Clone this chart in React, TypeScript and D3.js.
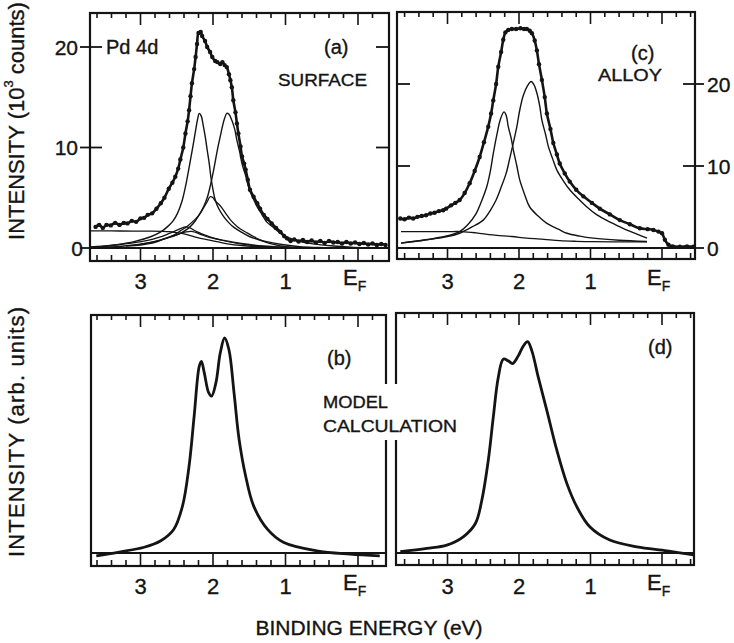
import React from 'react';
import * as d3 from 'd3';

type Pt = [number, number];

// binding energy (eV) vs intensity (10^3 counts)
const surfaceExp: Pt[] = [
  [3.62, 2.1], [3.57, 2.3], [3.52, 2.0], [3.47, 2.3], [3.41, 2.25], [3.35, 2.5], [3.29, 2.3], [3.23, 2.5],
  [3.18, 2.45], [3.12, 2.7], [3.06, 2.6], [3.0, 2.95], [2.95, 3.0], [2.9, 3.3], [2.84, 3.45], [2.78, 3.9],
  [2.72, 4.45], [2.67, 5.0], [2.61, 5.9], [2.56, 6.5], [2.52, 7.1], [2.48, 7.9], [2.45, 8.8], [2.41, 10.0],
  [2.38, 11.4], [2.35, 12.6], [2.33, 13.7], [2.31, 15.1], [2.29, 16.4], [2.26, 17.8], [2.24, 19.0], [2.22, 20.3],
  [2.2, 21.4], [2.17, 21.5], [2.15, 21.1], [2.11, 20.6], [2.08, 20.0], [2.04, 19.5], [2.01, 19.0], [1.97, 18.6],
  [1.94, 18.5], [1.9, 18.3], [1.87, 18.5], [1.84, 18.2], [1.81, 18.0], [1.78, 17.3], [1.76, 16.7], [1.74, 16.0],
  [1.72, 14.7], [1.69, 13.5], [1.67, 12.4], [1.65, 11.4], [1.62, 10.1], [1.6, 9.1], [1.57, 8.4], [1.55, 7.8],
  [1.52, 6.8], [1.49, 5.8], [1.44, 5.1], [1.39, 4.45], [1.35, 3.9], [1.3, 3.3], [1.25, 2.9], [1.19, 2.45],
  [1.13, 2.0], [1.07, 1.6], [1.02, 1.2], [0.98, 0.96], [0.93, 0.7], [0.88, 0.85], [0.82, 0.65], [0.76, 0.8],
  [0.7, 0.6], [0.64, 0.75], [0.58, 0.55], [0.52, 0.7], [0.46, 0.5], [0.4, 0.7], [0.34, 0.55], [0.28, 0.6],
  [0.22, 0.45], [0.16, 0.6], [0.1, 0.45], [0.04, 0.55], [-0.02, 0.4], [-0.08, 0.5], [-0.14, 0.35], [-0.2, 0.45],
  [-0.26, 0.3], [-0.32, 0.4], [-0.38, 0.3],
];

const surfacePeakA: Pt[] = [
  [3.69, 0.05], [3.55, 0.13], [3.3, 0.35], [3.09, 0.63], [2.86, 1.12], [2.72, 1.6], [2.63, 2.1], [2.55, 2.7],
  [2.49, 3.45], [2.43, 4.6], [2.38, 6.1], [2.34, 7.6], [2.31, 8.8], [2.27, 10.4], [2.24, 11.7], [2.21, 12.9],
  [2.19, 13.4], [2.16, 13.1], [2.14, 12.4], [2.11, 11.2], [2.08, 9.75], [2.05, 8.3], [2.03, 7.1], [2.0, 5.8],
  [1.97, 4.8], [1.92, 3.9], [1.85, 3.1], [1.78, 2.5], [1.72, 2.1], [1.6, 1.55], [1.49, 1.12], [1.38, 0.85],
  [1.26, 0.63], [1.05, 0.35], [0.8, 0.13], [0.55, 0.05], [0.34, 0.0],
];

const surfacePeakB: Pt[] = [
  [3.69, 0.0], [3.55, 0.05], [3.3, 0.15], [3.09, 0.3], [2.9, 0.5], [2.72, 0.8], [2.58, 1.1], [2.45, 1.46],
  [2.35, 1.9], [2.27, 2.46], [2.2, 3.2], [2.13, 4.1], [2.08, 5.0], [2.04, 6.1], [1.99, 7.8], [1.94, 9.75],
  [1.9, 11.1], [1.87, 12.1], [1.84, 12.9], [1.81, 13.4], [1.78, 13.3], [1.74, 12.7], [1.7, 11.8], [1.67, 10.7],
  [1.63, 9.5], [1.6, 8.4], [1.55, 7.2], [1.51, 6.1], [1.45, 5.0], [1.39, 4.1], [1.32, 3.3], [1.26, 2.6],
  [1.16, 2.0], [1.07, 1.46], [0.95, 1.0], [0.8, 0.63], [0.6, 0.38], [0.34, 0.2], [0.1, 0.08], [-0.12, 0.0],
];

const surfacePeakC: Pt[] = [
  [3.2, 0.2], [3.0, 0.3], [2.8, 0.55], [2.68, 0.9], [2.55, 1.25], [2.45, 1.7], [2.35, 2.2], [2.24, 2.9],
  [2.18, 3.4], [2.13, 4.0], [2.08, 4.6], [2.04, 5.1], [2.0, 5.0], [1.97, 4.7], [1.9, 4.2], [1.83, 3.5],
  [1.76, 2.8], [1.66, 2.1], [1.53, 1.5], [1.43, 1.1], [1.35, 0.8], [1.22, 0.45], [1.07, 0.2], [0.9, 0.05],
  [0.8, 0.0],
];

const surfaceBump1: Pt[] = [
  [3.69, 0.1], [3.4, 0.25], [3.1, 0.5], [2.9, 0.75], [2.75, 1.05], [2.62, 1.4], [2.52, 1.7], [2.44, 1.95],
  [2.38, 2.1], [2.33, 2.05], [2.28, 1.85], [2.2, 1.55], [2.1, 1.25], [2.0, 1.0], [1.85, 0.75], [1.7, 0.55],
  [1.5, 0.35], [1.3, 0.2], [1.1, 0.1], [0.9, 0.05], [0.7, 0.0],
];

const surfaceBump2: Pt[] = [
  [3.0, 0.4], [2.8, 0.65], [2.65, 0.95], [2.55, 1.2], [2.45, 1.45], [2.37, 1.6], [2.3, 1.65], [2.24, 1.55],
  [2.15, 1.3], [2.05, 1.05], [1.9, 0.8], [1.7, 0.5], [1.5, 0.3], [1.3, 0.15], [1.1, 0.05], [0.9, 0.0],
];

const surfaceBg: Pt[] = [
  [3.69, 1.7], [3.4, 1.7], [3.1, 1.68], [2.85, 1.68], [2.7, 1.66], [2.6, 1.62], [2.5, 1.52], [2.4, 1.4],
  [2.3, 1.2], [2.2, 1.0], [2.1, 0.85], [2.0, 0.7], [1.9, 0.55], [1.8, 0.42], [1.6, 0.25], [1.4, 0.15],
  [1.2, 0.08], [1.0, 0.04], [0.8, 0.0],
];

const alloyExp: Pt[] = [
  [3.66, 3.6], [3.6, 3.5], [3.54, 3.7], [3.48, 3.6], [3.42, 3.8], [3.36, 3.9], [3.3, 4.0], [3.24, 4.2],
  [3.18, 4.3], [3.12, 4.5], [3.06, 4.6], [3.02, 4.8], [2.95, 5.2], [2.89, 5.5], [2.83, 5.85], [2.76, 6.7],
  [2.69, 7.9], [2.62, 9.4], [2.55, 11.1], [2.49, 12.9], [2.43, 14.8], [2.39, 16.4], [2.36, 18.0], [2.32, 20.0],
  [2.29, 22.1], [2.25, 23.9], [2.22, 25.4], [2.19, 26.3], [2.15, 26.6], [2.1, 26.7], [2.04, 26.7], [1.98, 26.8],
  [1.93, 26.7], [1.89, 26.7], [1.85, 26.5], [1.82, 26.2], [1.78, 25.3], [1.75, 24.1], [1.72, 22.4], [1.68, 20.5],
  [1.64, 18.4], [1.61, 16.4], [1.56, 14.5], [1.52, 12.8], [1.47, 11.4], [1.43, 10.3], [1.36, 9.1], [1.29, 8.1],
  [1.2, 7.1], [1.1, 6.3], [0.98, 5.5], [0.87, 4.8], [0.73, 4.1], [0.59, 3.4], [0.45, 2.9], [0.31, 2.4],
  [0.2, 2.3], [0.12, 2.2], [0.05, 2.0], [0.0, 1.8], [-0.04, 1.0], [-0.09, 0.4], [-0.15, 0.2], [-0.25, 0.15],
  [-0.35, 0.2], [-0.44, 0.15],
];

const alloyPeakA: Pt[] = [
  [3.65, 0.6], [3.3, 1.0], [3.0, 1.5], [2.83, 2.0], [2.72, 2.8], [2.6, 4.2], [2.52, 5.8], [2.45, 7.5],
  [2.4, 9.4], [2.36, 11.5], [2.31, 13.8], [2.26, 15.7], [2.21, 16.6], [2.18, 16.2], [2.15, 14.8], [2.11, 13.4],
  [2.08, 12.0], [2.03, 10.0], [1.99, 8.3], [1.92, 6.5], [1.85, 5.0], [1.72, 3.8], [1.61, 3.0], [1.45, 2.3],
  [1.33, 1.8], [1.15, 1.45], [0.96, 1.2], [0.6, 0.95], [0.21, 0.8],
];

const alloyPeakB: Pt[] = [
  [3.65, 0.6], [3.3, 1.0], [3.0, 1.4], [2.83, 1.8], [2.65, 2.6], [2.5, 3.4], [2.4, 4.6], [2.32, 5.85],
  [2.25, 7.4], [2.18, 9.1], [2.13, 10.9], [2.08, 12.8], [2.03, 14.8], [1.99, 16.8], [1.94, 18.6], [1.88, 19.8],
  [1.83, 20.3], [1.79, 19.9], [1.75, 18.9], [1.71, 17.3], [1.68, 15.6], [1.63, 13.9], [1.59, 12.4], [1.53, 10.9],
  [1.47, 9.5], [1.38, 8.2], [1.29, 7.1], [1.17, 6.0], [1.05, 5.0], [0.92, 4.1], [0.78, 3.4], [0.64, 2.8],
  [0.5, 2.2], [0.35, 1.7], [0.21, 1.2],
];

const alloyBg: Pt[] = [
  [3.65, 2.0], [3.3, 2.0], [3.0, 2.0], [2.8, 2.0], [2.6, 1.85], [2.37, 1.6], [2.1, 1.4], [1.89, 1.2],
  [1.65, 1.05], [1.43, 0.9], [1.2, 0.82], [0.96, 0.77], [0.6, 0.75], [0.21, 0.75],
];

// model calculation, arbitrary units
const modelSurface: Pt[] = [
  [3.61, 0.1], [3.31, 1.7], [2.95, 4.0], [2.72, 7.0], [2.54, 12.3], [2.42, 23.0], [2.33, 41.3], [2.26, 64.2],
  [2.19, 87.0], [2.16, 89.3], [2.12, 84.0], [2.06, 74.9], [2.02, 73.3], [1.96, 79.4], [1.9, 93.1], [1.84, 100],
  [1.78, 94.6], [1.71, 74.9], [1.64, 53.5], [1.55, 36.7], [1.44, 23.0], [1.25, 12.3], [1.03, 6.3], [0.57, 2.4],
  [0.11, 0.9], [-0.3, 0.1],
];

const modelAlloy: Pt[] = [
  [3.66, 2.0], [3.29, 3.5], [3.01, 5.0], [2.78, 8.8], [2.61, 14.9], [2.52, 25.6], [2.43, 43.8], [2.36, 63.6],
  [2.29, 81.9], [2.22, 90.3], [2.15, 89.5], [2.09, 88.3], [2.01, 91.8], [1.94, 96.3], [1.88, 98.3], [1.82, 94.1],
  [1.73, 81.9], [1.61, 66.7], [1.47, 48.4], [1.33, 33.2], [1.19, 22.5], [1.01, 13.4], [0.73, 7.3], [0.35, 4.2],
  [-0.07, 2.4], [-0.44, 0.5],
];

const energyLabels = [3, 2, 1];
const countTicks = [0, 10, 20];
const energyTicks = d3.range(-4, 38, 2).map(v => v / 10);

const FONT = "'Liberation Sans', Arial, Helvetica, sans-serif";
const INK = '#141414';

const xLeft = d3.scaleLinear().domain([3, 0]).range([140.5, 358]);
const xRight = d3.scaleLinear().domain([3, 0]).range([447.5, 662]);
const yA = d3.scaleLinear().domain([0, 20]).range([248, 47]);
const yC = d3.scaleLinear().domain([0, 20]).range([248, 84]);
const yModel = d3.scaleLinear().domain([0, 100]).range([556, 338]);

function path(data: Pt[], x: d3.ScaleLinear<number, number>, y: d3.ScaleLinear<number, number>) {
  return d3.line<Pt>()
    .x(d => x(d[0]))
    .y(d => y(d[1]))
    .curve(d3.curveCatmullRom.alpha(0.5))(data) || '';
}

function Frame({ box, x, stripY }: { box: number[]; x: d3.ScaleLinear<number, number>; stripY: number }) {
  const [x0, y0, x1, y1] = box;
  const ticks = energyTicks.filter(t => x(t) > x0 + 2 && x(t) < x1 - 2);
  return (
    <g stroke={INK} fill="none">
      <rect x={x0} y={y0} width={x1 - x0} height={y1 - y0} strokeWidth={2.2} />
      <line x1={x0} x2={x1} y1={stripY} y2={stripY} strokeWidth={1.8} />
      {ticks.map(t => {
        const major = Math.abs(t - Math.round(t)) < 1e-6;
        const px = x(t);
        return (
          <g key={t} strokeWidth={1.6}>
            <line x1={px} x2={px} y1={y0} y2={y0 + (major ? 12 : 5)} />
            <line x1={px} x2={px} y1={y1} y2={major ? stripY : y1 - 6} />
          </g>
        );
      })}
    </g>
  );
}

const textInk = { fontFamily: FONT, fill: INK, stroke: INK, strokeWidth: 0.35 };

function EnergyLabels({ x, y }: { x: d3.ScaleLinear<number, number>; y: number }) {
  return (
    <g {...textInk}>
      {energyLabels.map(e => (
        <text key={e} x={x(e)} y={y} fontSize={22} textAnchor="middle" dominantBaseline="central">{e}</text>
      ))}
      <text x={x(0) - 15} y={y - 4} fontSize={22} dominantBaseline="central">
        E<tspan fontSize={14} dy={9}>F</tspan>
      </text>
    </g>
  );
}

function Curve({ data, x, y, w }: { data: Pt[]; x: any; y: any; w: number }) {
  return <path d={path(data, x, y)} fill="none" stroke={INK} strokeWidth={w} strokeLinejoin="round" />;
}

function Dots({ data, x, y }: { data: Pt[]; x: any; y: any }) {
  return (
    <g>
      <path d={path(data, x, y)} fill="none" stroke={INK} strokeWidth={2.6} />
      {data.map((d, i) => (
        <circle key={i} cx={x(d[0])} cy={y(d[1])} r={2.2} fill={INK} />
      ))}
    </g>
  );
}

export default function App() {
  return (
    <svg width={734} height={643} style={{ position: 'absolute', left: 0, top: 0, background: '#fff' }}>
      <rect width={734} height={643} fill="#fff" />

      {/* (a) surface */}
      <Frame box={[90, 13, 389, 261]} x={xLeft} stripY={248} />
      <g stroke={INK} strokeWidth={1.8}>
        {countTicks.map(v => (
          <line key={v} x1={80} x2={102} y1={yA(v)} y2={yA(v)} />
        ))}
        {countTicks.slice(1).map(v => (
          <line key={'r' + v} x1={376} x2={389} y1={yA(v)} y2={yA(v)} />
        ))}
      </g>
      <g {...textInk} fontSize={21}>
        {countTicks.map(v => (
          <text key={v} x={v === 0 ? 83 : 78} y={yA(v)} textAnchor="end" dominantBaseline="central">{v}</text>
        ))}
      </g>
      <Curve data={surfaceBg} x={xLeft} y={yA} w={1.3} />
      <Curve data={surfaceBump1} x={xLeft} y={yA} w={1.3} />
      <Curve data={surfaceBump2} x={xLeft} y={yA} w={1.2} />
      <Curve data={surfacePeakC} x={xLeft} y={yA} w={1.3} />
      <Curve data={surfacePeakA} x={xLeft} y={yA} w={1.4} />
      <Curve data={surfacePeakB} x={xLeft} y={yA} w={1.4} />
      <Dots data={surfaceExp} x={xLeft} y={yA} />
      <EnergyLabels x={xLeft} y={281} />
      <g {...textInk}>
        <text x={106} y={47} fontSize={20} dominantBaseline="central">Pd 4d</text>
        <text x={324} y={47} fontSize={20} dominantBaseline="central">(a)</text>
        <text x={278} y={80} fontSize={17} dominantBaseline="central" textLength={89} lengthAdjust="spacingAndGlyphs">SURFACE</text>
      </g>

      {/* (c) alloy */}
      <Frame box={[397, 12, 695, 259]} x={xRight} stripY={248} />
      <g stroke={INK} strokeWidth={1.8}>
        {countTicks.slice(1).map(v => (
          <line key={v} x1={397} x2={410} y1={yC(v)} y2={yC(v)} />
        ))}
        {countTicks.map(v => (
          <line key={'r' + v} x1={683} x2={704} y1={yC(v)} y2={yC(v)} />
        ))}
      </g>
      <g {...textInk} fontSize={21}>
        {countTicks.map(v => (
          <text key={v} x={707} y={yC(v)} dominantBaseline="central">{v}</text>
        ))}
      </g>
      <Curve data={alloyBg} x={xRight} y={yC} w={1.3} />
      <Curve data={alloyPeakA} x={xRight} y={yC} w={1.4} />
      <Curve data={alloyPeakB} x={xRight} y={yC} w={1.4} />
      <Dots data={alloyExp} x={xRight} y={yC} />
      <EnergyLabels x={xRight} y={281} />
      <g {...textInk}>
        <text x={631} y={53} fontSize={20} dominantBaseline="central">(c)</text>
        <text x={598} y={75} fontSize={17} dominantBaseline="central" textLength={64} lengthAdjust="spacingAndGlyphs">ALLOY</text>
      </g>

      {/* (b) model surface */}
      <Frame box={[91, 315, 386, 566]} x={xLeft} stripY={553} />
      <Curve data={modelSurface} x={xLeft} y={yModel} w={2.8} />
      <EnergyLabels x={xLeft} y={586} />
      <text {...textInk} x={327} y={358} fontSize={20} dominantBaseline="central">(b)</text>

      {/* (d) model alloy */}
      <Frame box={[396, 313, 694, 565]} x={xRight} stripY={553} />
      <Curve data={modelAlloy} x={xRight} y={yModel} w={2.8} />
      <EnergyLabels x={xRight} y={586} />
      <text {...textInk} x={648} y={347} fontSize={20} dominantBaseline="central">(d)</text>

      {/* model calculation note, breaking the frames */}
      <rect x={320} y={384} width={142} height={56} fill="#fff" />
      <g {...textInk}>
        <text x={323} y={402} fontSize={17} dominantBaseline="central" textLength={65} lengthAdjust="spacingAndGlyphs">MODEL</text>
        <text x={323} y={426} fontSize={17} dominantBaseline="central" textLength={134} lengthAdjust="spacingAndGlyphs">CALCULATION</text>
      </g>

      {/* axis titles */}
      <g {...textInk}>
        <text transform="translate(16,121) rotate(-90)" fontSize={22} textAnchor="middle" dominantBaseline="central">
          INTENSITY (10<tspan fontSize={13} dy={-8}>3</tspan><tspan dy={8}>{'  counts)'}</tspan>
        </text>
        <text transform="translate(16,432) rotate(-90)" fontSize={22} textAnchor="middle" dominantBaseline="central" textLength={250}>
          INTENSITY (arb. units)
        </text>
        <text x={369} y={627} fontSize={21} textAnchor="middle" dominantBaseline="central">
          BINDING ENERGY (eV)
        </text>
      </g>
    </svg>
  );
}
